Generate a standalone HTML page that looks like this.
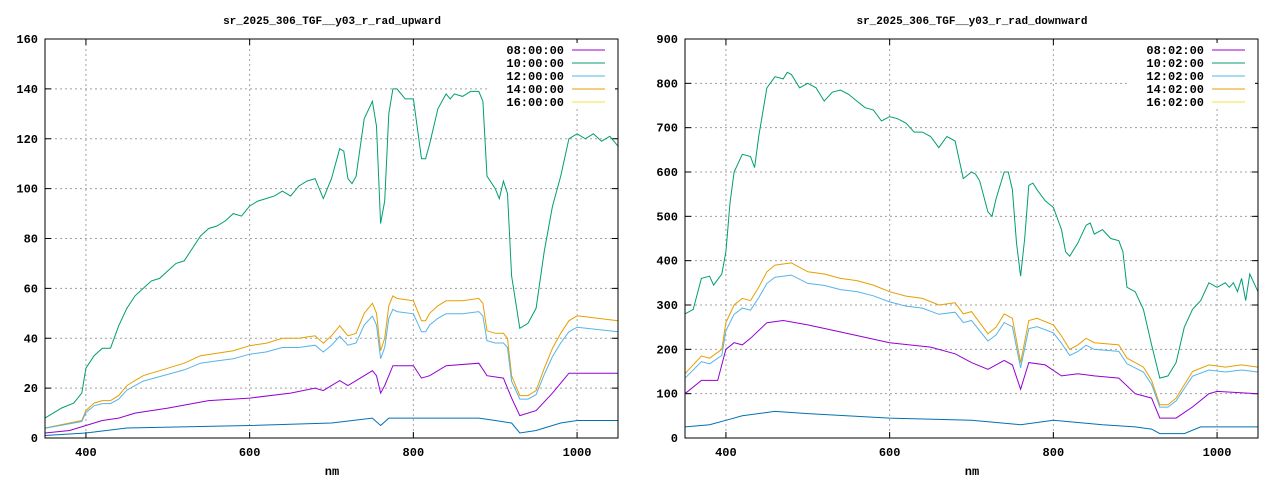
<!DOCTYPE html>
<html><head><style>
body{margin:0;background:#fff}
svg text{font-family:"Liberation Mono",monospace;font-size:12px;font-weight:bold;fill:#000}
</style></head><body>
<svg id="s" width="1280" height="480" xmlns="http://www.w3.org/2000/svg"></svg>
<script>
const S=document.getElementById('s');let h='';
const C={p:'#9400d3',g:'#009e73',lb:'#56b4e9',o:'#e69f00',y:'#f0e442',b:'#0072b2'};
function plot(ox,title,ymax,ystep,labels,D){
 const x0=ox+45,x1=ox+618,yt=39,yb=438;
 const X=v=>x0+(v-350)*(x1-x0)/700, Y=v=>yb-v*(yb-yt)/ymax;
 h+=`<text x="${ox+332}" y="24" text-anchor="middle" style="font-size:11px">${title}</text>`;
 for(let v=0;v<=ymax;v+=ystep){const y=Y(v);
  if(v>0&&v<ymax)h+=`<line x1="${x0}" x2="${x1}" y1="${y}" y2="${y}" stroke="#a0a0a0" stroke-dasharray="2,3"/>`;
  h+=`<line x1="${x0}" x2="${x0+6}" y1="${y}" y2="${y}" stroke="#000"/><line x1="${x1}" x2="${x1-6}" y1="${y}" y2="${y}" stroke="#000"/>`;
  h+=`<text x="${x0-7}" y="${y+4}" text-anchor="end">${v}</text>`;}
 for(const v of [400,600,800,1000]){const x=X(v);
  h+=`<line x1="${x}" x2="${x}" y1="${yt}" y2="${yb}" stroke="#a0a0a0" stroke-dasharray="2,3"/>`;
  h+=`<line x1="${x}" x2="${x}" y1="${yb}" y2="${yb-6}" stroke="#000"/><line x1="${x}" x2="${x}" y1="${yt}" y2="${yt+6}" stroke="#000"/>`;
  h+=`<text x="${x}" y="456" text-anchor="middle">${v}</text>`;}
 h+=`<text x="${ox+332}" y="475" text-anchor="middle">nm</text>`;
 h+=`<rect x="${ox+490}" y="43" width="125" height="66" fill="#fff"/>`;
 const lc=['p','g','lb','o','y'];
 labels.forEach((l,i)=>{const y=50+i*13;h+=`<text x="${ox+564}" y="${y+4}" text-anchor="end">${l}</text><line x1="${ox+572}" x2="${ox+605}" y1="${y}" y2="${y}" stroke="${C[lc[i]]}"/>`;});
 for(const [c,d] of D){let pts=[];for(let i=0;i<d.length;i+=2)pts.push(X(d[i]).toFixed(1)+','+Y(d[i+1]).toFixed(1));
  h+=`<polyline points="${pts.join(' ')}" fill="none" stroke="${C[c]}" stroke-width="1"/>`;}
 h+=`<rect x="${x0}" y="${yt}" width="${x1-x0}" height="${yb-yt}" fill="none" stroke="#000"/>`;
}
const sc=(d,k,a)=>d.map((v,i)=>i%2?v*k+a:v);
const Lg=[350,8,370,12,385,14,395,18,400,28,410,33,420,36,430,36,440,45,450,52,460,57,470,60,480,63,490,64,500,67,510,70,520,71,530,76,540,81,550,84,560,85,570,87,580,90,590,89,600,93,610,95,620,96,630,97,640,99,650,97,660,101,670,103,680,104,690,96,700,104,710,116,715,115,720,104,725,102,730,105,740,128,750,135,755,125,760,86,765,95,770,130,775,140,780,140,790,136,800,136,810,112,815,112,820,118,830,132,840,138,845,136,850,138,860,137,870,139,880,139,885,135,890,105,900,100,905,96,910,103,915,98,920,65,930,44,940,46,950,52,960,75,970,93,980,105,990,120,1000,122,1010,120,1020,122,1030,119,1040,121,1050,117];
const Lo=[350,4,380,6,395,7,400,11,410,14,420,15,430,15,440,17,450,21,460,23,470,25,480,26,500,28,520,30,540,33,560,34,580,35,600,37,620,38,640,40,660,40,680,41,690,38,700,41,710,45,720,41,730,42,740,50,750,54,755,50,760,35,765,40,770,53,775,57,780,56,800,55,810,47,815,47,820,50,830,53,840,55,860,55,880,56,885,54,890,43,900,42,910,42,915,40,920,25,930,17,940,17,950,19,960,28,970,36,980,42,990,47,1000,49,1050,47];
const Lp=[350,2,380,3,400,5,420,7,440,8,460,10,500,12,550,15,600,16,650,18,680,20,690,19,700,21,710,23,720,21,740,25,750,27,755,25,760,18,765,21,775,29,800,29,810,24,820,25,840,29,880,30,890,25,910,24,920,16,930,9,950,11,970,18,990,26,1050,26];
const Lb=[350,1,400,2,450,4,600,5,700,6,750,8,760,5,770,8,880,8,900,7,920,6,930,2,950,3,980,6,1000,7,1050,7];
plot(0,'sr_2025_306_TGF__y03_r_rad_upward',160,20,['08:00:00','10:00:00','12:00:00','14:00:00','16:00:00'],
 [['b',Lb],['p',Lp],['o',Lo],['lb',sc(Lo,0.9,0.3)],['g',Lg]]);
const Rg=[350,280,360,290,370,360,380,365,385,345,395,370,400,420,405,530,410,600,420,640,430,635,435,610,440,680,450,790,460,815,470,810,475,825,480,820,490,790,500,800,510,790,520,760,530,780,540,785,550,775,560,760,570,745,580,740,590,715,600,725,610,720,620,710,630,690,640,690,650,680,660,655,670,680,680,670,690,585,700,600,705,595,710,580,720,510,725,500,730,540,740,600,745,600,750,560,755,440,760,365,765,450,770,570,775,575,780,560,790,535,800,520,810,470,815,420,820,410,830,440,840,480,845,485,850,460,860,470,870,450,880,445,885,420,890,340,900,330,910,290,915,250,920,210,930,135,940,140,950,170,960,250,970,290,980,310,990,350,1000,340,1010,350,1015,340,1020,350,1025,330,1030,360,1035,310,1040,370,1050,330];
const Ro=[350,145,370,185,380,180,395,200,400,260,410,300,420,315,430,310,440,340,450,375,460,390,480,395,500,375,520,370,540,360,560,355,580,345,600,330,620,320,640,315,660,300,680,305,690,280,700,285,720,235,730,250,740,280,750,270,760,170,770,265,780,270,800,255,810,230,820,200,830,210,840,225,850,215,880,210,890,180,900,170,910,160,920,130,930,75,940,75,950,90,960,120,970,150,990,165,1010,160,1030,165,1050,160];
const Rp=[350,100,370,130,390,130,400,200,410,215,420,210,430,225,450,260,470,265,500,255,550,235,600,215,650,205,680,190,700,170,720,155,740,175,750,165,760,110,770,170,790,165,810,140,830,145,850,140,880,135,900,100,920,90,930,45,950,45,970,70,990,100,1000,105,1050,100];
const Rb=[350,25,380,30,400,40,420,50,460,60,500,55,600,45,700,40,760,30,800,40,860,30,900,25,920,20,930,10,960,10,980,25,1050,25];
plot(640,'sr_2025_306_TGF__y03_r_rad_downward',900,100,['08:02:00','10:02:00','12:02:00','14:02:00','16:02:00'],
 [['b',Rb],['p',Rp],['o',Ro],['lb',sc(Ro,0.93,0)],['g',Rg]]);
S.innerHTML=h;
</script>
</body></html>
